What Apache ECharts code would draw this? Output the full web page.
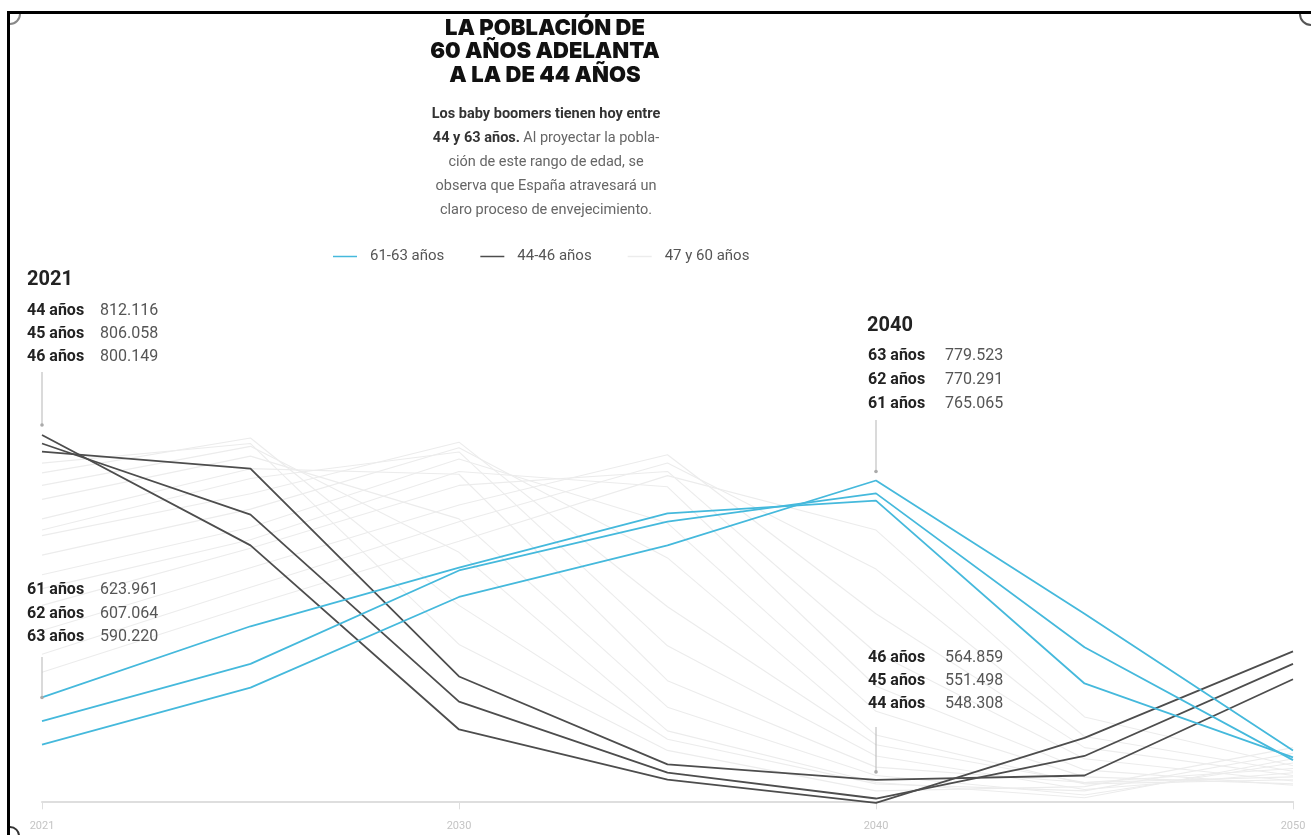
<!DOCTYPE html>
<html><head><meta charset="utf-8">
<script src="https://cdn.jsdelivr.net/npm/echarts@6/dist/echarts.min.js"></script>
<style>html,body{margin:0;padding:0;background:#fff}#c{width:1311px;height:835px}</style>
</head><body><div id="c"></div>
<script>
// ---- data (thousands of people) ----
const years = ['2021','2025','2030','2035','2040','2045','2050'];
const xLabels = ['2021','2030','2040','2050'];

// highlighted: 44-46 años
const age44 = [812.116, 733, 601, 565, 548.308, 595, 657];
const age45 = [806.058, 755, 621, 570, 551.498, 582, 648];
const age46 = [800.149, 788, 639, 576, 564.859, 568, 637];
// highlighted: 61-63 años
const age61 = [623.961, 675, 717, 756, 765.065, 634, 581];
const age62 = [607.064, 648, 715, 750, 770.291, 660, 579];
const age63 = [590.220, 631, 696, 733, 779.523, 684, 586];
// background: 47 to 60 años
const age47 = [792, 806, 662, 586, 557, 560, 588];
const age48 = [785, 810, 690, 594, 562, 557, 584];
const age49 = [776, 804, 728, 600, 563, 552, 580];
const age50 = [766, 797, 752, 617, 568, 554, 577];
const age51 = [752, 788, 784, 636, 574, 563, 573];
const age52 = [744, 781, 800, 661, 582, 558, 570];
const age53 = [740, 770, 807, 689, 590, 563, 567];
const age54 = [726, 759, 803, 724, 597, 562, 565];
const age55 = [712, 746, 795, 749, 614, 567, 562];
const age56 = [702, 737, 786, 775, 632, 572, 561];
const age57 = [690, 731, 776, 786, 656, 580, 564];
const age58 = [672, 717, 762, 798, 684, 588, 568];
const age59 = [655, 703, 750, 792, 716, 596, 571];
const age60 = [642, 690, 736, 783, 744, 610, 575];

const grayAges = [age47, age48, age49, age50, age51, age52, age53, age54, age55, age56, age57, age58, age59, age60];
const darkAges = [age44, age45, age46];
const blueAges = [age61, age62, age63];

const legendNames = ['61-63 años', '44-46 años', '47 y 60 años'];

// annotation texts
const note2021Top = [['44 años','812.116'],['45 años','806.058'],['46 años','800.149']];
const note2021Low = [['61 años','623.961'],['62 años','607.064'],['63 años','590.220']];
const note2040Top = [['63 años','779.523'],['62 años','770.291'],['61 años','765.065']];
const note2040Low = [['46 años','564.859'],['45 años','551.498'],['44 años','548.308']];

// ---- styles ----
const BLUE = '#45b9dc', DARK = '#4d4d4d', GRAY = '#ececec';
const FONT = 'Roboto, "Noto Sans", sans-serif';

const chart = echarts.init(document.getElementById('c'));

function mk(name, data, color, width, z) {
  return {type:'line', name, data, symbol:'none', clip:false, silent:true, z,
    lineStyle:{color, width}, itemStyle:{color}, emphasis:{disabled:true}};
}
const series = [];
grayAges.forEach(a => series.push(mk(legendNames[2], a, GRAY, 1.1, 1)));
darkAges.forEach(a => series.push(mk(legendNames[1], a, DARK, 1.8, 3)));
blueAges.forEach(a => series.push(mk(legendNames[0], a, BLUE, 1.8, 4)));

chart.setOption({
  animation:false,
  backgroundColor:'#fff',
  grid:{left:42, right:18, top:382.2, bottom:33.7, containLabel:false},
  legend:{data:legendNames, left:328, top:244, icon:'rect', itemWidth:24, itemHeight:1.5,
    itemGap:36, selectedMode:false,
    textStyle:{color:'#555', fontSize:15, fontFamily:FONT, padding:[0,0,0,8]}},
  xAxis:{type:'category', data:years, boundaryGap:false,
    axisLine:{lineStyle:{color:'#dedede', width:2}},
    axisTick:{show:true, length:8, lineStyle:{color:'#dedede'},
      interval:(i, v) => xLabels.includes(v)},
    axisLabel:{color:'#c4c4c4', fontSize:11, fontFamily:FONT, margin:19,
      interval:(i, v) => xLabels.includes(v)}},
  yAxis:{type:'value', min:549.5, max:850, show:false, splitLine:{show:false}},
  series
});

// ---- annotations ----
const g = [];
function txt(x, y, text, font, fill, align) {
  g.push({type:'text', x, y, silent:true, z:10,
    style:{text, font, fill, textAlign:align||'left', textVerticalAlign:'middle'}});
}
function block(x, y0, step, rows, numDx) {
  rows.forEach((r, i) => {
    txt(x, y0 + i*step, r[0], 'bold 16px ' + FONT, '#222');
    txt(x + numDx, y0 + i*step, r[1], '16px ' + FONT, '#555');
  });
}
// title
const TF = '900 22px Inter, Roboto, sans-serif';
txt(545, 28, 'LA POBLACIÓN DE', TF, '#111', 'center');
txt(545, 51, '60 AÑOS ADELANTA', TF, '#111', 'center');
txt(545, 75, 'A LA DE 44 AÑOS', TF, '#111', 'center');
// subtitle
g.push({type:'text', x:546, y:162, silent:true, z:10,
  style:{text:'{b|Los baby boomers tienen hoy entre}\n{b|44 y 63 años.} {r|Al proyectar la pobla-}\n{r|ción de este rango de edad, se}\n{r|observa que España atravesará un}\n{r|claro proceso de envejecimiento.}',
    textAlign:'center', textVerticalAlign:'middle', lineHeight:24,
    rich:{b:{font:'bold 14.5px ' + FONT, fill:'#333', lineHeight:24},
          r:{font:'14.5px ' + FONT, fill:'#666', lineHeight:24}}}});
// year headings and value blocks
txt(27, 280, '2021', 'bold 20px ' + FONT, '#222');
block(27, 311, 23, note2021Top, 73);
block(27, 590, 23.5, note2021Low, 73);
txt(867, 326, '2040', 'bold 20px ' + FONT, '#222');
block(868, 356, 24, note2040Top, 77);
block(868, 658, 23, note2040Low, 77);

// connectors computed from the data points
function px(i, v) { return chart.convertToPixel({gridIndex:0}, [i, v]); }
function connector(x, yTop, yEnd) {
  g.push({type:'line', silent:true, z:9, shape:{x1:x, y1:yTop, x2:x, y2:yEnd},
    style:{stroke:'#b5b5b5', lineWidth:1}});
  g.push({type:'circle', silent:true, z:9, shape:{cx:x, cy:yEnd, r:1.8}, style:{fill:'#aaa'}});
}
const p21a = px(0, age44[0]); connector(p21a[0], 372, p21a[1] - 10);
const p21b = px(0, age61[0]); connector(p21b[0], 657, p21b[1]);
const p40a = px(4, age63[4]); connector(p40a[0], 420, p40a[1] - 9);
const p40b = px(4, age46[4]); connector(p40b[0], 727, p40b[1] - 8);

// frame
g.push({type:'rect', silent:true, z:20, shape:{x:7, y:11, width:1304, height:3}, style:{fill:'#000'}});
g.push({type:'rect', silent:true, z:20, shape:{x:7, y:11, width:3, height:824}, style:{fill:'#000'}});
g.push({type:'arc', silent:true, z:20, shape:{cx:10, cy:14, r:10, startAngle:0, endAngle:Math.PI/2},
  style:{stroke:'#888', lineWidth:2, fill:null}});
g.push({type:'arc', silent:true, z:20, shape:{cx:1311, cy:14, r:11, startAngle:Math.PI/2, endAngle:Math.PI},
  style:{stroke:'#555', lineWidth:2, fill:null}});
g.push({type:'arc', silent:true, z:20, shape:{cx:10, cy:836, r:9, startAngle:-Math.PI/2, endAngle:0},
  style:{stroke:'#333', lineWidth:2, fill:null}});

chart.setOption({graphic:g});
</script></body></html>
